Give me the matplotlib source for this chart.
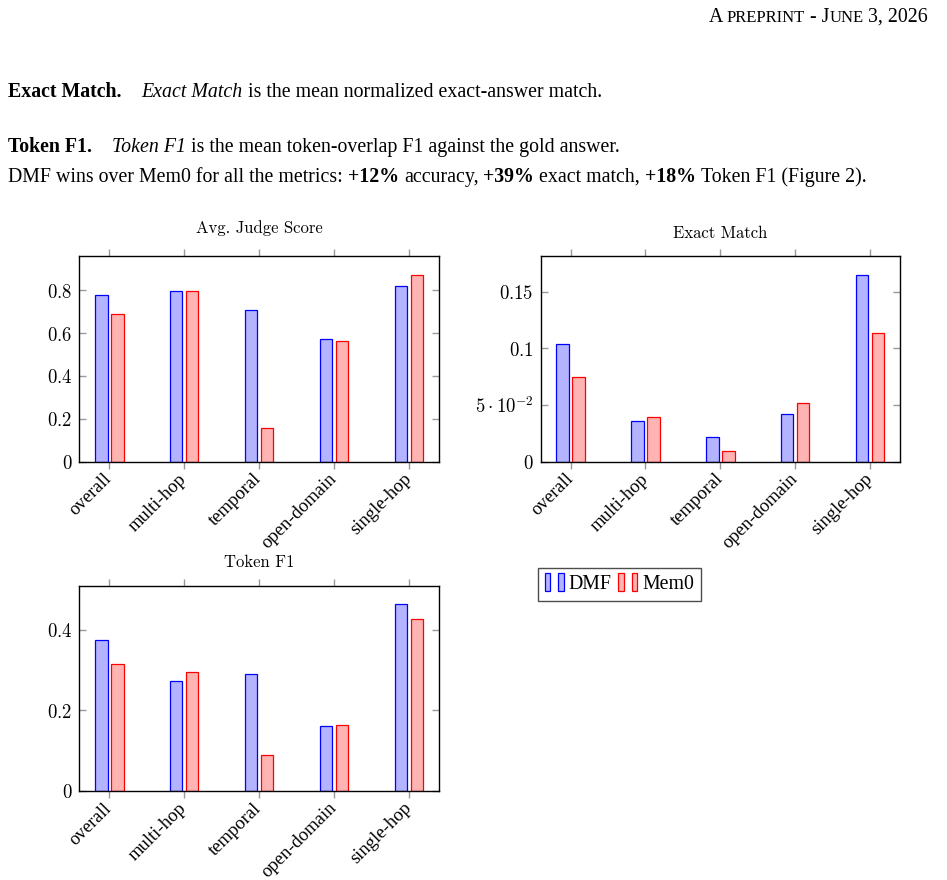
import numpy as np
import matplotlib
matplotlib.use("Agg")
import matplotlib.pyplot as plt
from matplotlib.patches import Rectangle
from matplotlib.legend_handler import HandlerBase

# data
categories = ["overall", "multi-hop", "temporal", "open-domain", "single-hop"]
judge_dmf = [0.776, 0.795, 0.708, 0.574, 0.820]
judge_mem0 = [0.689, 0.795, 0.156, 0.563, 0.873]
exact_dmf = [0.1035, 0.0356, 0.0220, 0.0418, 0.1646]
exact_mem0 = [0.0744, 0.0392, 0.0094, 0.0520, 0.1138]
f1_dmf = [0.373, 0.273, 0.289, 0.160, 0.463]
f1_mem0 = [0.314, 0.295, 0.089, 0.164, 0.425]

DMF_FILL, DMF_EDGE = (0.7, 0.7, 1.0), (0.0, 0.0, 1.0)
MEM_FILL, MEM_EDGE = (1.0, 0.7, 0.7), (1.0, 0.0, 0.0)

plt.rcParams["mathtext.fontset"] = "cm"
SERIF = "Liberation Serif"
BODY = 14.3

W, H = 947, 880
fig = plt.figure(figsize=(W / 100, H / 100), dpi=100)


def px_axes(left, top, right, bottom):
    return fig.add_axes([left / W, 1 - bottom / H, (right - left) / W, (bottom - top) / H])


def bar_panel(ax, dmf, mem0, ymax, yticks, ylabels, title, title_base):
    x = np.arange(len(categories))
    ax.bar(x - 0.107, dmf, 0.167, color=DMF_FILL, edgecolor=DMF_EDGE, linewidth=0.9)
    ax.bar(x + 0.107, mem0, 0.167, color=MEM_FILL, edgecolor=MEM_EDGE, linewidth=0.9)
    ax.set_xlim(-0.4, 4.4)
    ax.set_ylim(0, ymax)
    ax.set_xticks(x)
    ax.set_xticklabels(categories, rotation=45, ha="right", va="center",
                       rotation_mode="anchor", family=SERIF, fontsize=13.4)
    ax.set_yticks(yticks)
    ax.set_yticklabels(ylabels)
    ax.tick_params(axis="x", direction="out", top=True, length=5, width=1,
                   color="0.6", pad=5.5)
    ax.tick_params(axis="y", direction="in", right=True, length=5, width=1,
                   color="0.6", pad=5, labelsize=13.5)
    for s in ax.spines.values():
        s.set_linewidth(1.0)
    h_px = ax.get_position().height * H
    ax.text(0.5, 1 + title_base / h_px, title, transform=ax.transAxes,
            ha="center", va="baseline", family="cmr10", fontsize=12)


ax1 = px_axes(79.3, 256.3, 439, 461.7)
bar_panel(ax1, judge_dmf, judge_mem0, 0.958, [0, 0.2, 0.4, 0.6, 0.8],
          [r"$0$", r"$0.2$", r"$0.4$", r"$0.6$", r"$0.8$"], "Avg. Judge Score", 23)

ax2 = px_axes(540.7, 256.3, 900, 461.7)
bar_panel(ax2, exact_dmf, exact_mem0, 0.1811, [0, 0.05, 0.1, 0.15],
          [r"$0$", r"$5\cdot10^{-2}$", r"$0.1$", r"$0.15$"], "Exact Match", 18.5)

ax3 = px_axes(79.3, 586, 439, 791)
bar_panel(ax3, f1_dmf, f1_mem0, 0.508, [0, 0.2, 0.4],
          [r"$0$", r"$0.2$", r"$0.4$"], "Token F1", 19)


class TwoBarHandler(HandlerBase):
    def create_artists(self, legend, orig_handle, xdescent, ydescent,
                       width, height, fontsize, trans):
        bw = width * 0.3
        arts = []
        for x0 in (0, width - bw):
            arts.append(Rectangle((x0 - xdescent, -ydescent - 1), bw, height + 2,
                                  facecolor=orig_handle.get_facecolor(),
                                  edgecolor=orig_handle.get_edgecolor(),
                                  linewidth=0.9, transform=trans))
        return arts


proxies = [Rectangle((0, 0), 1, 1, facecolor=DMF_FILL, edgecolor=DMF_EDGE),
           Rectangle((0, 0), 1, 1, facecolor=MEM_FILL, edgecolor=MEM_EDGE)]
leg = fig.legend(proxies, ["DMF", "Mem0"], loc="upper left",
                 bbox_to_anchor=(538.3 / W, 1 - 568.3 / H), borderaxespad=0,
                 ncol=2, fancybox=False, edgecolor="0.3", framealpha=1,
                 prop={"family": SERIF, "size": BODY},
                 handlelength=0.95, handleheight=0.8, handletextpad=0.25,
                 columnspacing=0.35, borderpad=0.32,
                 handler_map={Rectangle: TwoBarHandler()})
leg.get_frame().set_linewidth(1.0)


# page text around the figure
def draw_runs(x, base_y, runs, size, align_right=None):
    r = fig.canvas.get_renderer()
    texts = []
    for txt, kw, gap in runs:
        fs = kw.get("size", size)
        x += gap * fs * 100 / 72
        t = fig.text(x / W, 1 - base_y / H, txt, fontsize=fs, family=SERIF,
                     fontweight=kw.get("weight", "normal"),
                     fontstyle=kw.get("style", "normal"),
                     va="baseline", ha="left")
        x = t.get_window_extent(renderer=r).x1
        texts.append(t)
    if align_right is not None:
        shift = (align_right - x) / W
        for t in texts:
            t.set_x(t.get_position()[0] + shift)


N, B, I = {}, {"weight": "bold"}, {"style": "italic"}
SC = {"size": 12}
draw_runs(0, 22, [("A", N, 0), ("PREPRINT", SC, 0.2), ("- J", N, 0.25),
                  ("UNE", SC, 0), ("3, 2026", N, 0.25)], BODY, align_right=928)

draw_runs(8, 97, [("Exact Match.", B, 0), ("Exact Match", I, 1.0),
                  ("is the mean normalized exact-answer match.", N, 0.25)], BODY)
draw_runs(8, 152, [("Token F1.", B, 0), ("Token F1", I, 1.0),
                   ("is the mean token-overlap F1 against the gold answer.", N, 0.25)], BODY)
draw_runs(8, 182, [("DMF wins over Mem0 for all the metrics:", N, 0),
                   ("+12%", B, 0.25), ("accuracy,", N, 0.25),
                   ("+39%", B, 0.25), ("exact match,", N, 0.25),
                   ("+18%", B, 0.25), ("Token F1 (Figure 2).", N, 0.25)], BODY)

fig.savefig("out.png", dpi=100)
